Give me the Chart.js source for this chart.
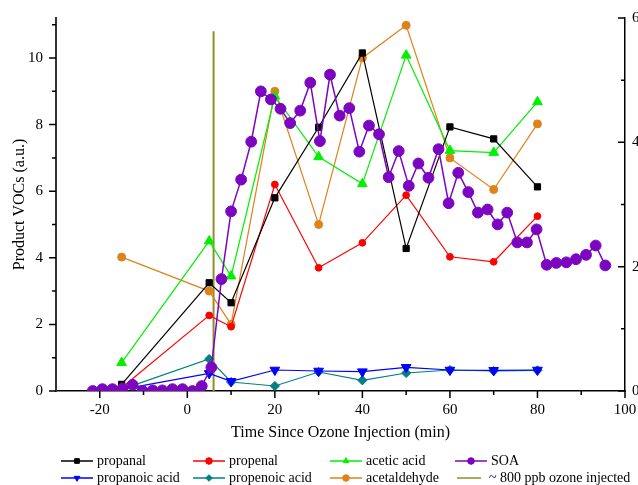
<!doctype html>
<html>
<head>
    <title>Product VOCs and SOA</title>
    <script src="https://cdn.jsdelivr.net/npm/chart.js"></script>
    <style>
        html, body { margin: 0; background: #fff; overflow: hidden; }
    </style>
</head>
<body>
    <canvas id="myChart" width="652" height="485"></canvas>

    <script>
        // sample times (min) for the VOC measurements
        var vocTime = [-15, 5, 10, 20, 30, 40, 50, 60, 70, 80];
        var propanal = [0.2, 3.25, 2.65, 5.8, 7.92, 10.15, 4.28, 7.93, 7.57, 6.13];
        var propenal = [0.1, 2.27, 1.93, 6.2, 3.7, 4.45, 5.88, 4.03, 3.88, 5.25];
        var aceticAcid = [0.85, 4.5, 3.45, 8.85, 7.03, 6.22, 10.08, 7.22, 7.16, 8.68];
        var propanoicAcid = [0.05, 0.53, 0.29, 0.63, 0.6, 0.58, 0.71, 0.63, 0.62, 0.63];
        var propenoicAcid = [0.05, 0.96, 0.27, 0.15, 0.57, 0.32, 0.54, 0.63, 0.6, 0.62];
        var acetaldehyde = [4.02, 3.0, 2.0, 9.0, 5.0, 10.0, 10.98, 7.0, 6.05, 8.02];

        // SOA (right axis)
        var soaTime = [-21.6, -19.4, -17.1, -14.8, -12.5, -10.2, -7.9, -5.7, -3.4, -1.1,
                       1.2, 3.3, 5.5, 7.8, 10.0, 12.3, 14.6, 16.8, 19.1, 21.3,
                       23.5, 25.8, 28.1, 30.3, 32.6, 34.8, 37.0, 39.3, 41.5, 43.8,
                       46.0, 48.3, 50.6, 52.8, 55.1, 57.4, 59.7, 61.9, 64.2, 66.4,
                       68.6, 70.9, 73.1, 75.4, 77.6, 79.8, 82.1, 84.3, 86.6, 88.8,
                       91.1, 93.3, 95.5];
        var soa = [0.0, 0.03, 0.03, 0.04, 0.1, 0.0, 0.01, 0.01, 0.03, 0.03,
                   0.0, 0.08, 0.38, 1.8, 2.89, 3.4, 4.01, 4.82, 4.69, 4.54,
                   4.31, 4.51, 4.96, 4.02, 5.09, 4.43, 4.55, 3.85, 4.27, 4.13,
                   3.44, 3.86, 3.30, 3.66, 3.43, 3.89, 3.02, 3.51, 3.2, 2.87,
                   2.92, 2.68, 2.87, 2.39, 2.39, 2.6, 2.03, 2.06, 2.07, 2.12,
                   2.19, 2.34, 2.02];

        // ozone injection marker
        var ozoneTime = [6, 6];
        var ozoneLine = [0, 10.8];

        var serif = 'Liberation Serif';

        function pts(xs, ys) {
            return xs.map(function (x, i) { return {x: x, y: ys[i]}; });
        }

        function series(label, xs, ys, color, style, radius, extra) {
            var ds = {
                label: label,
                data: pts(xs, ys),
                borderColor: color,
                backgroundColor: color,
                borderWidth: 1.2,
                pointStyle: style,
                pointRadius: radius,
                pointBorderWidth: 1,
                tension: 0,
                yAxisID: 'y',
                order: 2
            };
            return Object.assign(ds, extra || {});
        }

        var datasets = [
            series('propanal', vocTime, propanal, '#000000', 'rect', 4.4),
            series('propenal', vocTime, propenal, '#ff0000', 'circle', 3.4),
            series('acetic acid', vocTime, aceticAcid, '#00f000', 'triangle', 5.6),
            series('SOA', soaTime, soa, '#7b05c0', 'circle', 5.4, {yAxisID: 'y2', borderWidth: 1.5, order: 0}),
            series('propanoic acid', vocTime, propanoicAcid, '#0000ff', 'triangle', 5.6, {pointRotation: 180}),
            series('propenoic acid', vocTime, propenoicAcid, '#008080', 'rectRot', 4.6),
            series('acetaldehyde', vocTime, acetaldehyde, '#e0821a', 'circle', 4),
            series('~ 800 ppb ozone injected', ozoneTime, ozoneLine, '#8f8f2a', 'circle', 0, {borderWidth: 2, order: 5})
        ];

        // minor / inward tick marks
        var axisTicks = {
            id: 'axisTicks',
            afterDraw: function (chart) {
                var ctx = chart.ctx, a = chart.chartArea, s = chart.scales;
                ctx.save();
                ctx.strokeStyle = '#000';
                ctx.lineWidth = 1.5;
                ctx.beginPath();
                for (var v = -20; v <= 100; v += 10) {
                    var px = s.x.getPixelForValue(v);
                    ctx.moveTo(px, a.bottom);
                    ctx.lineTo(px, a.bottom + (v % 20 === 0 ? 7 : 4));
                }
                for (var w = 0; w <= 11; w++) {
                    var py = s.y.getPixelForValue(w);
                    ctx.moveTo(a.left, py);
                    ctx.lineTo(a.left - (w % 2 === 0 ? 7 : 4), py);
                }
                for (var k = 0; k <= 6; k++) {
                    var py2 = s.y2.getPixelForValue(k);
                    ctx.moveTo(a.right, py2);
                    ctx.lineTo(a.right - (k % 2 === 0 ? 7 : 4), py2);
                }
                ctx.stroke();
                ctx.restore();
            }
        };

        // legend laid out in 4 columns, 2 rows, line-marker-line samples
        var legendCols = [61, 193, 330, 455];
        var legendRows = [461, 478];
        var sampleLegend = {
            id: 'sampleLegend',
            afterDraw: function (chart) {
                var ctx = chart.ctx;
                ctx.save();
                ctx.font = '14px "' + serif + '"';
                ctx.textBaseline = 'middle';
                ctx.textAlign = 'left';
                chart.data.datasets.forEach(function (ds, i) {
                    var x0 = legendCols[i % 4], y0 = legendRows[Math.floor(i / 4)];
                    ctx.strokeStyle = ds.borderColor;
                    ctx.lineWidth = 1.5;
                    ctx.beginPath();
                    if (ds.pointRadius > 0) {
                        ctx.moveTo(x0, y0); ctx.lineTo(x0 + 32, y0);
                    } else {
                        ctx.moveTo(x0 + 2, y0); ctx.lineTo(x0 + 26, y0);
                    }
                    ctx.stroke();
                    if (ds.pointRadius > 0) {
                        ctx.fillStyle = ds.backgroundColor;
                        ctx.lineWidth = 1;
                        Chart.helpers.drawPoint(ctx, {
                            pointStyle: ds.pointStyle,
                            rotation: ds.pointRotation || 0,
                            radius: 3.3,
                            borderWidth: 1
                        }, x0 + 16, y0);
                    }
                    ctx.fillStyle = '#000';
                    ctx.fillText(ds.label, ds.pointRadius > 0 ? x0 + 36 : x0 + 34, y0);
                });
                ctx.restore();
            }
        };

        var tickFont = {family: serif, size: 15};

        function fixWidth(w) {
            return function (s) {
                s.width = w;
                s.paddingTop = 0;
                s.paddingBottom = 0;
            };
        }

        var ctx = document.getElementById('myChart').getContext('2d');
        var chart = new Chart(ctx, {
            type: 'line',
            data: {datasets: datasets},
            options: {
                responsive: false,
                animation: false,
                layout: {padding: {top: 18, bottom: 41, left: 0, right: 0}},
                plugins: {
                    legend: {display: false},
                    tooltip: {enabled: false}
                },
                scales: {
                    x: {
                        type: 'linear',
                        min: -30,
                        max: 100,
                        grid: {display: false, drawTicks: false},
                        border: {display: true, color: '#000', width: 1.5},
                        ticks: {
                            stepSize: 20,
                            padding: 10,
                            color: '#000',
                            font: tickFont,
                            maxRotation: 0,
                            autoSkip: false,
                            callback: function (v) { return v % 20 === 0 ? v : ''; }
                        },
                        title: {
                            display: true,
                            text: 'Time Since Ozone Injection (min)',
                            color: '#000',
                            font: {family: serif, size: 16},
                            padding: {top: 0, bottom: 2}
                        },
                        afterFit: function (s) { s.height = 53; }
                    },
                    y: {
                        position: 'left',
                        min: 0,
                        max: 11.2,
                        grid: {display: false, drawTicks: false},
                        border: {display: true, color: '#333', width: 2},
                        ticks: {
                            stepSize: 2,
                            includeBounds: false,
                            padding: 13,
                            color: '#000',
                            font: tickFont,
                            callback: function (v) { return v % 2 === 0 ? v : ''; }
                        },
                        title: {
                            display: true,
                            text: 'Product VOCs (a.u.)',
                            color: '#000',
                            font: {family: serif, size: 16},
                            padding: {top: 10, bottom: 0}
                        },
                        afterFit: fixWidth(56)
                    },
                    y2: {
                        position: 'right',
                        min: 0,
                        max: 6,
                        grid: {display: false, drawTicks: false},
                        border: {display: true, color: '#000', width: 1.5},
                        ticks: {
                            stepSize: 2,
                            padding: 7,
                            color: '#000',
                            font: tickFont
                        },
                        afterFit: fixWidth(27)
                    }
                }
            },
            plugins: [axisTicks, sampleLegend]
        });
    </script>
</body>
</html>
